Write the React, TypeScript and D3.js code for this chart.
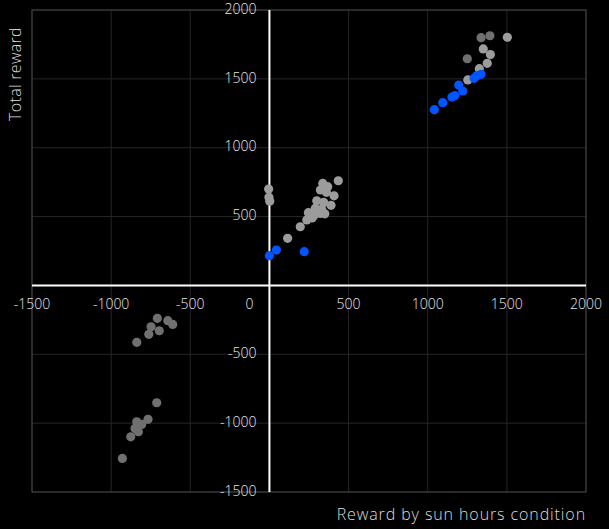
import React from "react";
import * as d3 from "d3";

const xTicks = [-1500, -1000, -500, 0, 500, 1000, 1500, 2000];
const yTicks = [-1500, -1000, -500, 500, 1000, 1500, 2000];

// series: dark gray points
const darkX = [1337, 1393, 1250, -708, -642, -611, -748, -696, -762, -838, -712, -767, -838, -807, -849, -828, -876, -929];
const darkY = [1799, 1813, 1646, -239, -256, -283, -300, -329, -355, -413, -852, -972, -990, -1009, -1038, -1062, -1099, -1256];

// series: light gray points
const lightX = [1503, 1351, 1396, 1376, 1326, 1253, -5, -3, 2, 435, 337, 368, 322, 360, 408, 299, 343, 389, 246, 309, 322, 280, 236, 195, 330, 115, 290, 270, 350];
const lightY = [1802, 1717, 1676, 1613, 1574, 1492, 700, 640, 612, 760, 741, 717, 693, 676, 651, 615, 603, 582, 528, 542, 523, 506, 475, 426, 553, 342, 560, 490, 520];

// series: blue points
const blueX = [1337, 1310, 1293, 1196, 1221, 1171, 1153, 1095, 1042, 0, 44, 220];
const blueY = [1533, 1523, 1504, 1455, 1412, 1378, 1368, 1327, 1276, 216, 257, 245];

const W = 609;
const H = 529;
const L = 32, R = 586, T = 10, B = 492;

export default function App() {
  const x = d3.scaleLinear().domain([-1500, 2000]).range([L, R]);
  const y = d3.scaleLinear().domain([-1500, 2000]).range([B, T]);
  const font = "'Open Sans', Lato, sans-serif";
  const mk = (xs: number[], ys: number[], color: string, key: string) =>
    xs.map((v, i) => (
      <circle key={key + i} cx={x(v)} cy={y(ys[i])} r={4.6} fill={color} />
    ));
  return (
    <svg width={W} height={H} style={{ position: "fixed", left: 0, top: 0, background: "#000" }}>
      <rect x={0} y={0} width={W} height={H} fill="#000" />
      {xTicks.map((t) => (
        <line key={"gx" + t} x1={x(t)} x2={x(t)} y1={T} y2={B} stroke="#262626" strokeWidth={1} />
      ))}
      {[-1500, -1000, -500, 0, 500, 1000, 1500, 2000].map((t) => (
        <line key={"gy" + t} x1={L} x2={R} y1={y(t)} y2={y(t)} stroke="#262626" strokeWidth={1} />
      ))}
      <rect x={L} y={T} width={R - L} height={B - T} fill="none" stroke="#444" strokeWidth={1} />
      <line x1={x(0)} x2={x(0)} y1={T} y2={B} stroke="#fff" strokeWidth={2} />
      <line x1={L} x2={R} y1={y(0)} y2={y(0)} stroke="#fff" strokeWidth={2} />
      {mk(lightX, lightY, "#9c9c9c", "l")}
      {mk(darkX, darkY, "#707070", "d")}
      {mk(blueX, blueY, "#0055ff", "b")}
      {xTicks.map((t) => (
        <text
          key={"tx" + t}
          x={t === 0 ? x(0) - 20 : x(t)}
          y={y(0) + 20}
          fill="#e6e6e6"
          fontSize={14}
          fontWeight={300}
          fontFamily={font}
          textAnchor="middle"
          dominantBaseline="middle"
        >
          {t}
        </text>
      ))}
      {yTicks.map((t) => (
        <text
          key={"ty" + t}
          x={x(0) - 13}
          y={y(t)}
          fill="#e6e6e6"
          fontSize={14}
          fontWeight={300}
          fontFamily={font}
          textAnchor="end"
          dominantBaseline="middle"
        >
          {t}
        </text>
      ))}
      <text
        transform={`translate(17,74) rotate(-90)`}
        fill="#dcdcdc"
        fontSize={16}
        fontWeight={300}
        letterSpacing={0.3}
        fontFamily={font}
        textAnchor="middle"
        dominantBaseline="middle"
      >
        Total reward
      </text>
      <text
        x={R}
        y={516}
        fill="#dcdcdc"
        fontSize={16}
        fontWeight={300}
        letterSpacing={0.9}
        fontFamily={font}
        textAnchor="end"
        dominantBaseline="middle"
      >
        Reward by sun hours condition
      </text>
    </svg>
  );
}
